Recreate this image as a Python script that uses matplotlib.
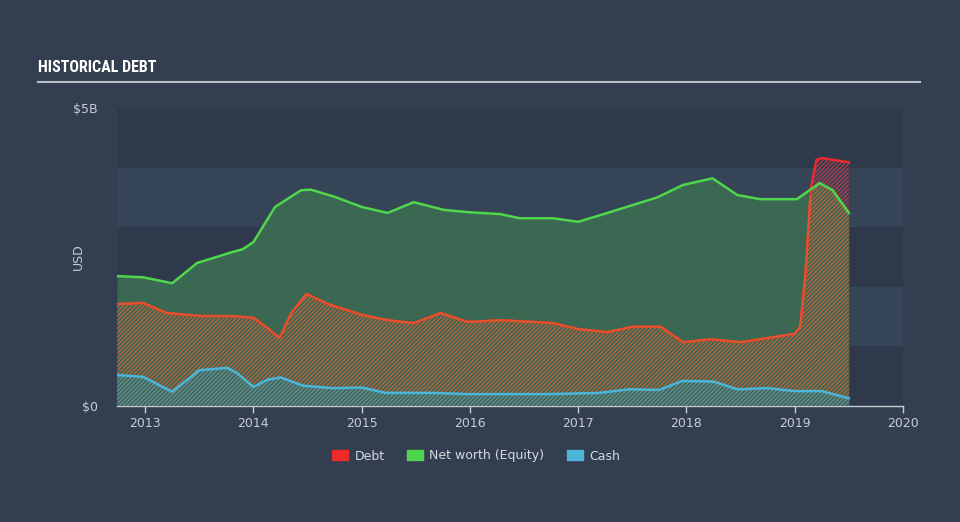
import numpy as np
import matplotlib
matplotlib.use('Agg')
from matplotlib import pyplot as plt
from matplotlib.patches import Patch

# values, in $B, x in decimal years
eq_x = [2012.74, 2012.98, 2013.25, 2013.48, 2013.80, 2013.90, 2014.00, 2014.20, 2014.44, 2014.53,
        2014.75, 2015.00, 2015.24, 2015.48, 2015.76, 2016.00, 2016.28, 2016.46, 2016.77, 2017.00,
        2017.20, 2017.50, 2017.73, 2017.97, 2018.24, 2018.47, 2018.68, 2019.02, 2019.23, 2019.35,
        2019.50]
equity = [2.18, 2.16, 2.06, 2.40, 2.58, 2.63, 2.75, 3.34, 3.62, 3.63,
          3.51, 3.34, 3.24, 3.42, 3.29, 3.25, 3.22, 3.15, 3.15, 3.09,
          3.20, 3.37, 3.50, 3.71, 3.82, 3.54, 3.47, 3.47, 3.74, 3.62,
          3.24]

debt_x = [2012.74, 2012.98, 2013.20, 2013.50, 2013.80, 2014.00, 2014.13, 2014.24, 2014.35, 2014.49,
          2014.69, 2015.00, 2015.24, 2015.48, 2015.73, 2015.98, 2016.28, 2016.60, 2016.77, 2017.00,
          2017.27, 2017.50, 2017.76, 2017.97, 2018.22, 2018.50, 2018.75, 2019.00, 2019.05, 2019.10,
          2019.15, 2019.20, 2019.25, 2019.50]
debt = [1.71, 1.73, 1.56, 1.51, 1.51, 1.48, 1.31, 1.14, 1.56, 1.88,
        1.71, 1.53, 1.44, 1.39, 1.56, 1.41, 1.44, 1.41, 1.39, 1.29,
        1.24, 1.33, 1.33, 1.07, 1.12, 1.07, 1.14, 1.21, 1.33, 2.23,
        3.67, 4.13, 4.16, 4.09]

cash_x = [2012.74, 2012.98, 2013.13, 2013.25, 2013.39, 2013.50, 2013.76, 2013.85, 2014.00, 2014.13,
          2014.25, 2014.46, 2014.74, 2015.00, 2015.22, 2015.66, 2015.98, 2016.28, 2016.74, 2017.20,
          2017.47, 2017.75, 2017.96, 2018.25, 2018.47, 2018.75, 2019.00, 2019.25, 2019.50]
cash = [0.52, 0.49, 0.35, 0.24, 0.44, 0.60, 0.64, 0.55, 0.32, 0.44,
        0.48, 0.34, 0.30, 0.31, 0.22, 0.22, 0.20, 0.20, 0.20, 0.22,
        0.28, 0.27, 0.42, 0.41, 0.28, 0.30, 0.25, 0.25, 0.13]

year_ticks = [2013, 2014, 2015, 2016, 2017, 2018, 2019, 2020]

bg = '#333f50'
grid_dark = '#2e3a4b'
grid_light = '#354456'
green = '#4fd64c'
red = '#ee2a2a'
orange = '#e0532c'
blue = '#4bb6d9'

plt.rcParams['hatch.linewidth'] = 0.8

fig = plt.figure(figsize=(9.6, 5.22), dpi=100, facecolor=bg)
ax = fig.add_axes([117 / 960, 116 / 522, 786 / 960, 298 / 522])
ax.set_facecolor(bg)

# alternating bands
for i in range(5):
    ax.axhspan(i, i + 1, color=grid_dark if i % 2 == 0 else grid_light, lw=0, zorder=0)

# common grid for fills
xs = np.linspace(2012.74, 2019.5, 800)
eq_i = np.interp(xs, eq_x, equity)
debt_i = np.interp(xs, debt_x, debt)

ax.fill_between(eq_x, 0, equity, color='#3a6852', lw=0, zorder=1)

# debt below equity: orange hatch over green
ax.fill_between(xs, 0, np.minimum(debt_i, eq_i), facecolor='none', edgecolor='#c9603c',
                hatch='/' * 8, lw=0, zorder=2)
# debt above equity: red hatch on dark
ax.fill_between(xs, eq_i, debt_i, where=debt_i > eq_i, interpolate=True,
                facecolor='none', edgecolor='#c23a4c', hatch='/' * 8, lw=0, zorder=2)
# cash
ax.fill_between(cash_x, 0, cash, facecolor='#3d6a5c', edgecolor='#6e9098',
                hatch='/' * 8, lw=0, zorder=3)

ax.plot(debt_x, debt, color=red, lw=1.7, zorder=4)
under = np.where(debt_i <= eq_i, debt_i, np.nan)
ax.plot(xs, under, color=orange, lw=1.7, zorder=5)
ax.plot(eq_x, equity, color=green, lw=1.8, zorder=6)
ax.plot(cash_x, cash, color=blue, lw=1.8, zorder=6)

ax.set_xlim(2012.74, 2020.0)
ax.set_ylim(0, 5)
ax.set_xticks(year_ticks)
ax.set_xticklabels([str(y) for y in year_ticks])
ax.set_yticks([0, 5])
ax.set_yticklabels(['$0', '$5B'])
ax.tick_params(axis='x', colors='#c7ccd3', labelcolor='#c7ccd3', labelsize=9,
               length=5, width=1, pad=3)
ax.tick_params(axis='y', length=0, labelcolor='#c7ccd3', labelsize=9, pad=14)
for s in ['top', 'left', 'right']:
    ax.spines[s].set_visible(False)
ax.spines['bottom'].set_color('#c7ccd3')
ax.spines['bottom'].set_linewidth(1)
ax.set_ylabel('USD', color='#c7ccd3', fontsize=9)
ax.yaxis.set_label_coords(-0.041, 0.5)

# title and rule
fig.text(38 / 960, 1 - 68 / 522, 'HISTORICAL DEBT', color='white', fontsize=11.5,
         fontweight='bold', fontstretch='condensed', va='center', ha='left',
         family=['Roboto Condensed', 'Liberation Sans Narrow', 'DejaVu Sans'])
fig.add_artist(plt.Line2D([38 / 960, 920 / 960], [1 - 82 / 522, 1 - 82 / 522],
                          color='#b9bec6', lw=1.5))

# legend
handles = [Patch(color=red, label='Debt'), Patch(color=green, label='Net worth (Equity)'),
           Patch(color=blue, label='Cash')]
leg = fig.legend(handles=handles, loc='center', bbox_to_anchor=(476 / 960, 1 - 456 / 522),
                 ncol=3, frameon=False, fontsize=9, handlelength=1.3, handleheight=0.9,
                 columnspacing=1.8, handletextpad=0.5)
for t in leg.get_texts():
    t.set_color('#d5d9de')

fig.savefig('out.png', dpi=100, facecolor=bg)
